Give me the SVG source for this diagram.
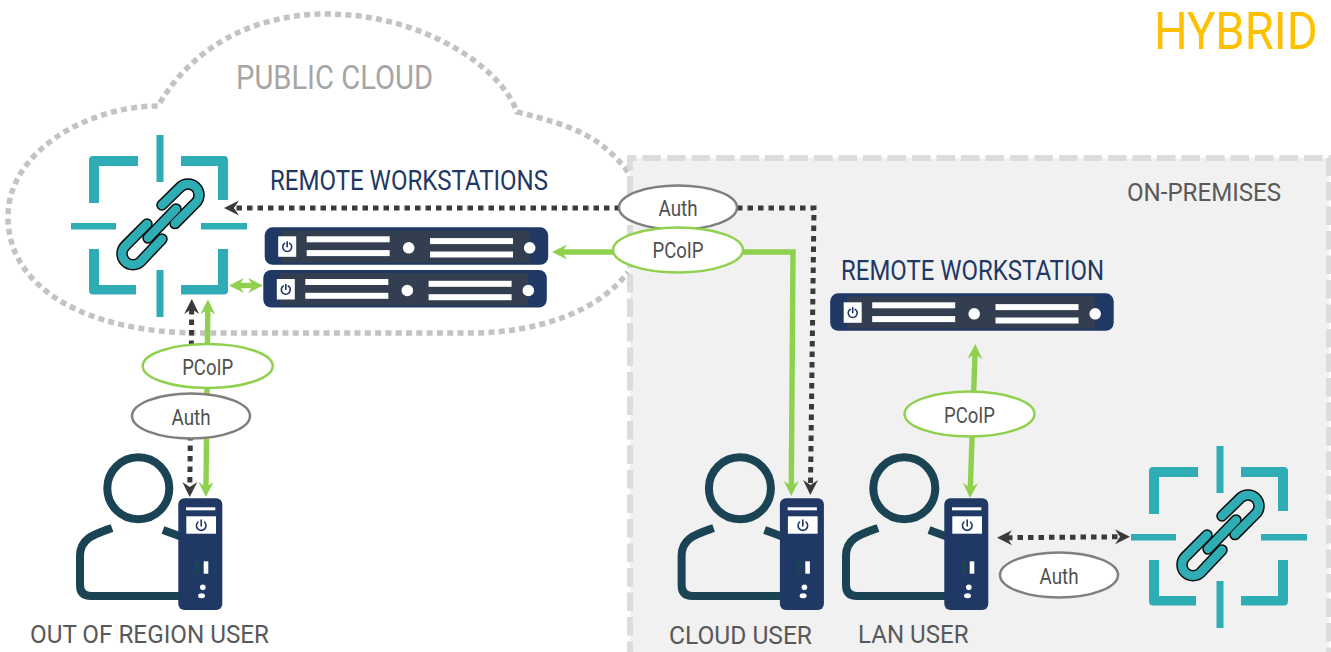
<svg xmlns="http://www.w3.org/2000/svg" xmlns:xlink="http://www.w3.org/1999/xlink" width="1331" height="652" viewBox="0 0 1331 652">
<style>
text{font-family:Roboto,"Liberation Sans",sans-serif}
.lbl{font-size:26.5px;fill:#595959}
.navy{font-size:27.5px;fill:#1f3864}
.oval{font-size:22.5px;fill:#505050;text-anchor:middle}
.auth{fill:#fff;stroke:#7f7f7f;stroke-width:2.5}
.pcoip{fill:#fff;stroke:#8fd14f;stroke-width:2.5}
.green{fill:none;stroke:#8fd14f;stroke-width:5.400;marker-end:url(#gh)}
.greenb{fill:none;stroke:#8fd14f;stroke-width:5.400;marker-start:url(#gh);marker-end:url(#gh)}
.dot{fill:none;stroke:#3a3a3a;stroke-width:5;stroke-dasharray:5.5 5;marker-end:url(#dh)}
.dotb{fill:none;stroke:#3a3a3a;stroke-width:5;stroke-dasharray:5.5 5;marker-start:url(#dh);marker-end:url(#dh)}
.teal{fill:#2fadb4}
.w{fill:#fff}
.pw{fill:none;stroke:#1f3864;stroke-width:1.6;stroke-linecap:round}
</style>
<defs>
<marker id="gh" markerUnits="userSpaceOnUse" markerWidth="18" markerHeight="18" viewBox="0 0 18 18" refX="6" refY="9" orient="auto-start-reverse"><path d="M16 9L1 1.500L6 9L1 16.500Z" fill="#8fd14f"/></marker>
<marker id="dh" markerUnits="userSpaceOnUse" markerWidth="18" markerHeight="18" viewBox="0 0 18 18" refX="6" refY="9" orient="auto-start-reverse"><path d="M16 9L1 1.500L6 9L1 16.500Z" fill="#3a3a3a"/></marker>
<g id="link-icon">
<path class="teal" d="M138 156V166H99V203H89V160Q89 156 93 156Z"/>
<path class="teal" d="M181 156V166H218V200H228V160Q228 156 224 156Z"/>
<path class="teal" d="M89 249V290Q89 294.500 93 294.500H136V285H99V249Z"/>
<path class="teal" d="M181 285V294.500H224Q228 294.500 228 290V249H218V285Z"/>
<rect class="teal" x="156.500" y="135" width="7" height="47"/>
<rect class="teal" x="156.500" y="270" width="7" height="47"/>
<rect class="teal" x="71" y="223" width="45" height="6.500"/>
<rect class="teal" x="201" y="223" width="46" height="6.500"/>
<g fill="none" stroke="#0c0c0c" stroke-width="11.500" stroke-linecap="round">
<path d="M162 205L180.200 187.200A11 11 0 0 1 195.800 202.800L175 223.600"/>
<path d="M147 224L125.200 245.900A11 11 0 0 0 140.800 261.500L162 239"/>
<path d="M176 209L148 238"/>
</g>
<g fill="none" stroke="#2fadb4" stroke-width="8.500" stroke-linecap="round">
<path d="M162 205L180.200 187.200A11 11 0 0 1 195.800 202.800L175 223.600"/>
<path d="M147 224L125.200 245.900A11 11 0 0 0 140.800 261.500L162 239"/>
<path d="M176 209L148 238"/>
</g>
</g>
<g id="server">
<rect x="0" y="0" width="283.500" height="37.500" rx="8" fill="#1f3864"/>
<rect x="17" y="3" width="248" height="32.500" fill="#333f50"/>
<rect class="w" x="13.500" y="9" width="18" height="20.500"/>
<path class="pw" d="M20 16A4.500 4.500 0 1 0 25 16M22.500 14.500V19.500"/>
<rect class="w" x="42" y="9" width="83" height="6"/>
<rect class="w" x="42" y="22.800" width="83" height="6"/>
<circle class="w" cx="144" cy="20.500" r="5.800"/>
<rect class="w" x="165.300" y="10.800" width="83" height="6"/>
<rect class="w" x="165.300" y="24.200" width="83" height="6"/>
<circle class="w" cx="265" cy="20.500" r="5.800"/>
</g>
<g id="user">
<circle cx="138.300" cy="488.300" r="31" fill="none" stroke="#1a4453" stroke-width="8"/>
<path fill="none" stroke="#1a4453" stroke-width="8" d="M112 528C95 534 80 538 80 556V585Q80 596 91 596H180M163 530L182 537"/>
<rect x="178.300" y="498.300" width="44" height="111.700" rx="6" fill="#1f3864"/>
<rect class="w" x="186" y="507.300" width="29.300" height="3"/>
<rect class="w" x="186.300" y="516.300" width="29.700" height="17.400"/>
<path class="pw" d="M198 522A4.800 4.800 0 1 0 204.500 522M201.200 520V526"/>
<rect x="195" y="561.300" width="4.500" height="12.400" fill="#1a4453"/>
<rect class="w" x="203.700" y="561.300" width="4.600" height="12.400"/>
<circle class="w" cx="202.800" cy="587.300" r="2.800"/>
<ellipse class="w" cx="201.500" cy="595.700" rx="3.500" ry="2.500"/>
</g>
</defs>
<rect width="1331" height="652" fill="#fff"/>
<path id="public-cloud" fill="none" stroke="#c3c3c3" stroke-width="5.500" stroke-dasharray="6 4.300" d="M628 172C600 135 570 125 517 112C500 65 420 14 327 14C250 14 190 50 158 106C90 106 8 150 8 217C8 290 90 333 200 333L470 333C540 333 600 310 628 272"/>
<path id="on-premises" fill="#f1f1f1" stroke="#dcdcdc" stroke-width="6" stroke-dasharray="18.500 6" d="M630 660V158H1329V660"/>
<g id="labels">
<text transform="translate(1154 49) scale(.9076 1)" font-size="52" fill="#ffc000">HYBRID</text>
<text x="236" y="88.500" font-size="33" fill="#a6a6a6" textLength="197" lengthAdjust="spacingAndGlyphs">PUBLIC CLOUD</text>
<text class="navy" x="270" y="190" textLength="278" lengthAdjust="spacingAndGlyphs">REMOTE WORKSTATIONS</text>
<text class="lbl" x="1127" y="201" textLength="154" lengthAdjust="spacingAndGlyphs">ON-PREMISES</text>
<text class="navy" x="841" y="280" textLength="263" lengthAdjust="spacingAndGlyphs">REMOTE WORKSTATION</text>
<text class="lbl" x="30" y="643" textLength="239" lengthAdjust="spacingAndGlyphs">OUT OF REGION USER</text>
<text class="lbl" x="669" y="644" textLength="143" lengthAdjust="spacingAndGlyphs">CLOUD USER</text>
<text class="lbl" x="858" y="642.700" textLength="110.500" lengthAdjust="spacingAndGlyphs">LAN USER</text>
</g>
<g id="connectors">
<path class="dot" d="M620 208L234 208"/>
<path class="dot" d="M737 208L814 208L810.500 485"/>
<path class="green" d="M615 252L562 252"/>
<path class="green" d="M743 252L793 252L791.300 486"/>
<path class="dotb" d="M191.700 309L189.800 487"/>
<path class="greenb" d="M207.800 309.500L206 487"/>
<path class="greenb" d="M239 285.500L253 285.500"/>
<path class="greenb" d="M975 354L970.300 488"/>
<path class="dotb" d="M1007 537.700L1120 536.800"/>
</g>
<g id="link-cloud"><use href="#link-icon"/></g>
<g id="link-lan"><use href="#link-icon" transform="translate(1060 311)"/></g>
<g id="server-1"><use href="#server" transform="translate(264.700 227.300)"/></g>
<g id="server-2"><use href="#server" transform="translate(263.300 270)"/></g>
<g id="server-3"><use href="#server" transform="translate(830.200 293.300)"/></g>
<g id="user-out"><use href="#user"/></g>
<g id="user-cloud"><use href="#user" transform="translate(601.600 0)"/></g>
<g id="user-lan"><use href="#user" transform="translate(766 0)"/></g>
<g id="oval-auth-1"><ellipse class="auth" cx="678" cy="207.500" rx="59" ry="22"/><text class="oval" x="678" y="216" textLength="39" lengthAdjust="spacingAndGlyphs">Auth</text></g>
<g id="oval-pcoip-1"><ellipse class="pcoip" cx="678" cy="250" rx="65" ry="22.500"/><text class="oval" x="678" y="258" textLength="51" lengthAdjust="spacingAndGlyphs">PCoIP</text></g>
<g id="oval-pcoip-2"><ellipse class="pcoip" cx="207.700" cy="366" rx="65" ry="22"/><text class="oval" x="207.700" y="375" textLength="51" lengthAdjust="spacingAndGlyphs">PCoIP</text></g>
<g id="oval-auth-2"><ellipse class="auth" cx="191" cy="416" rx="59" ry="22.500"/><text class="oval" x="191" y="425" textLength="39" lengthAdjust="spacingAndGlyphs">Auth</text></g>
<g id="oval-pcoip-3"><ellipse class="pcoip" cx="969.500" cy="414" rx="65" ry="22.500"/><text class="oval" x="969.500" y="422.500" textLength="51" lengthAdjust="spacingAndGlyphs">PCoIP</text></g>
<g id="oval-auth-3"><ellipse class="auth" cx="1059" cy="575" rx="59" ry="22.500"/><text class="oval" x="1059" y="583.500" textLength="39" lengthAdjust="spacingAndGlyphs">Auth</text></g>
</svg>
